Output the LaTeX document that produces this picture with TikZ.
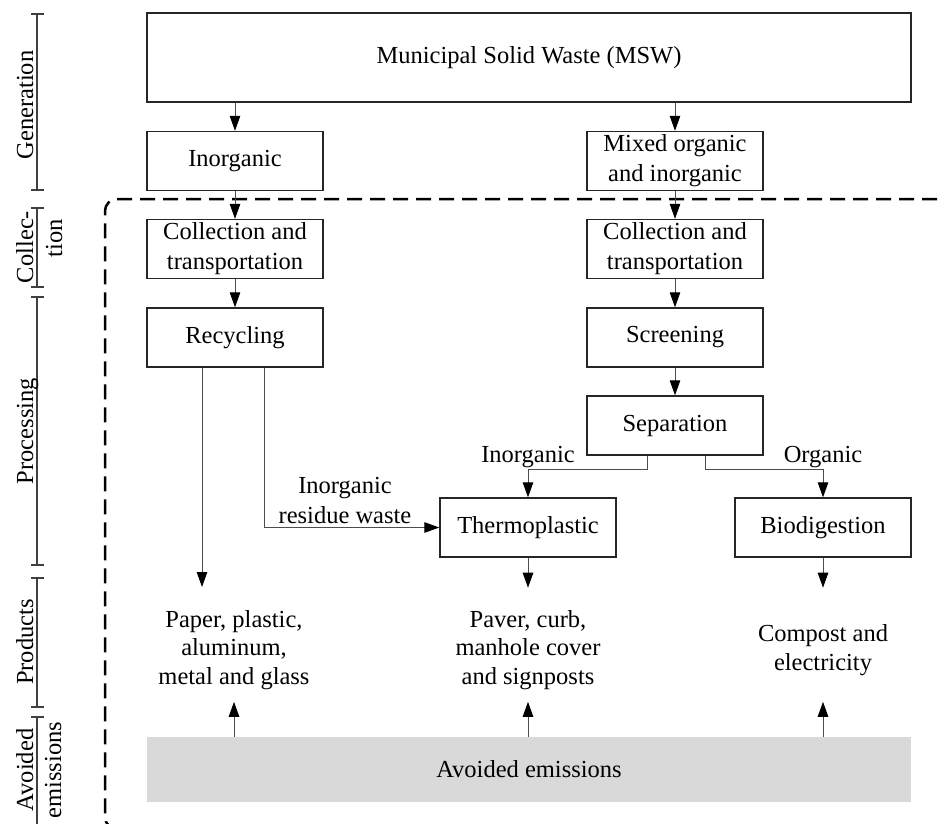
\documentclass[tikz,border=0pt]{standalone}
\usepackage{fontspec}
\setmainfont{Liberation Serif}
\usetikzlibrary{arrows.meta}
\newcommand\figfont{\fontsize{24.5}{28.5}\selectfont}
\newcommand\boxfont{\fontsize{24.5}{30}\selectfont}
\definecolor{emgray}{HTML}{D9D9D9}
\begin{document}
\begin{tikzpicture}[x=1pt,y=-1pt,
  box/.style={draw=black!85, line width=1.4pt, minimum width=176pt, minimum height=59pt, inner sep=0pt, align=center, font=\boxfont},
  txt/.style={inner sep=0pt, align=center, font=\figfont},
  side/.style={inner sep=0pt, font=\figfont, rotate=90, anchor=base},
  conn/.style={draw=black!70, line width=1pt, -{Triangle[length=15pt,width=10.5pt,color=black]}},
  brk/.style={draw=black!75, line width=1.5pt},
  frame/.style={draw=black, line width=2.5pt, dash pattern=on 15pt off 8pt, rounded corners=12pt}]
\path[use as bounding box, clip] (0,0) rectangle (944,823);

% side brackets
\draw[brk] (37,14) -- (37,190) (31,14) -- (44,14) (31,190) -- (44,190);
\draw[brk] (37,208) -- (37,287) (31,208) -- (44,208) (31,287) -- (44,287);
\draw[brk] (37,297) -- (37,565) (31,297) -- (44,297) (31,565) -- (44,565);
\draw[brk] (37,578) -- (37,707) (31,578) -- (44,578) (31,707) -- (44,707);
\draw[brk] (37,717) -- (37,830) (31,717) -- (44,717);
\node[side] (lgen) at (33,105) {Generation};
\node[side] (lcol1) at (33,247) {Collec-};
\node[side] (lcol2) at (62,238) {tion};
\node[side] (lproc) at (33,431) {Processing};
\node[side] (lprod) at (33,642) {Products};
\node[side] (lav1) at (33,770) {Avoided};
\node[side] (lav2) at (61,770) {emissions};

% dashed frame
\draw[frame] (960,199) -- (105,199) -- (105,829) -- (960,829);

% boxes
\node[box, minimum width=764pt, minimum height=89pt] (msw) at (529,57.5) {Municipal Solid Waste (MSW)};
\node[box] (inorg) at (235,161) {Inorganic};
\node[box] (mixed) at (675,161) {Mixed organic\\and inorganic};
\node[box] (coll1) at (235,249) {Collection and\\transportation};
\node[box] (coll2) at (675,249) {Collection and\\transportation};
\node[box] (recyc) at (235,337.5) {Recycling};
\node[box] (screen) at (675,337.5) {Screening};
\node[box] (sep) at (675,425.5) {Separation};
\node[box] (thermo) at (528,527.5) {Thermoplastic};
\node[box] (bio) at (823,527.5) {Biodigestion};

% products
\node[txt] (prod1) at (234,650) {Paper, plastic,\\aluminum,\\metal and glass};
\node[txt] (prod2) at (528,650) {Paver, curb,\\manhole cover\\and signposts};
\node[txt] (prod3) at (823,650) {Compost and\\electricity};

% avoided emissions
\node[fill=emgray, minimum width=764pt, minimum height=65pt, inner sep=0pt, font=\figfont] (avoided) at (529,769.5) {Avoided emissions};

% labels
\node[txt] (linorg) at (528,457) {Inorganic};
\node[txt] (lorg) at (823,457) {Organic};
\node[txt, font=\boxfont] (lres) at (345,500) {Inorganic\\residue waste};

% connectors
\coordinate (p1) at (202,587);
\draw[conn] (msw.south -| inorg) -- (inorg.north);
\draw[conn] (msw.south -| mixed) -- (mixed.north);
\draw[conn] (inorg) -- (coll1);
\draw[conn] (mixed) -- (coll2);
\draw[conn] (coll1) -- (recyc);
\draw[conn] (coll2) -- (screen);
\draw[conn] (screen) -- (sep);
\draw[conn] ([xshift=-28pt]sep.south) -- ++(0,14) -| (thermo.north);
\draw[conn] ([xshift=30pt]sep.south) -- ++(0,14) -| (bio.north);
\draw[conn] ([xshift=-33pt]recyc.south) -- (p1);
\draw[conn] ([xshift=29pt]recyc.south) |- (thermo.west);
\draw[conn] (thermo.south) -- ++(0,30);
\draw[conn] (bio.south) -- ++(0,30);
\draw[conn] (avoided.north -| prod1) -- ++(0,-35);
\draw[conn] (avoided.north -| prod2) -- ++(0,-35);
\draw[conn] (avoided.north -| prod3) -- ++(0,-35);
\end{tikzpicture}
\end{document}
